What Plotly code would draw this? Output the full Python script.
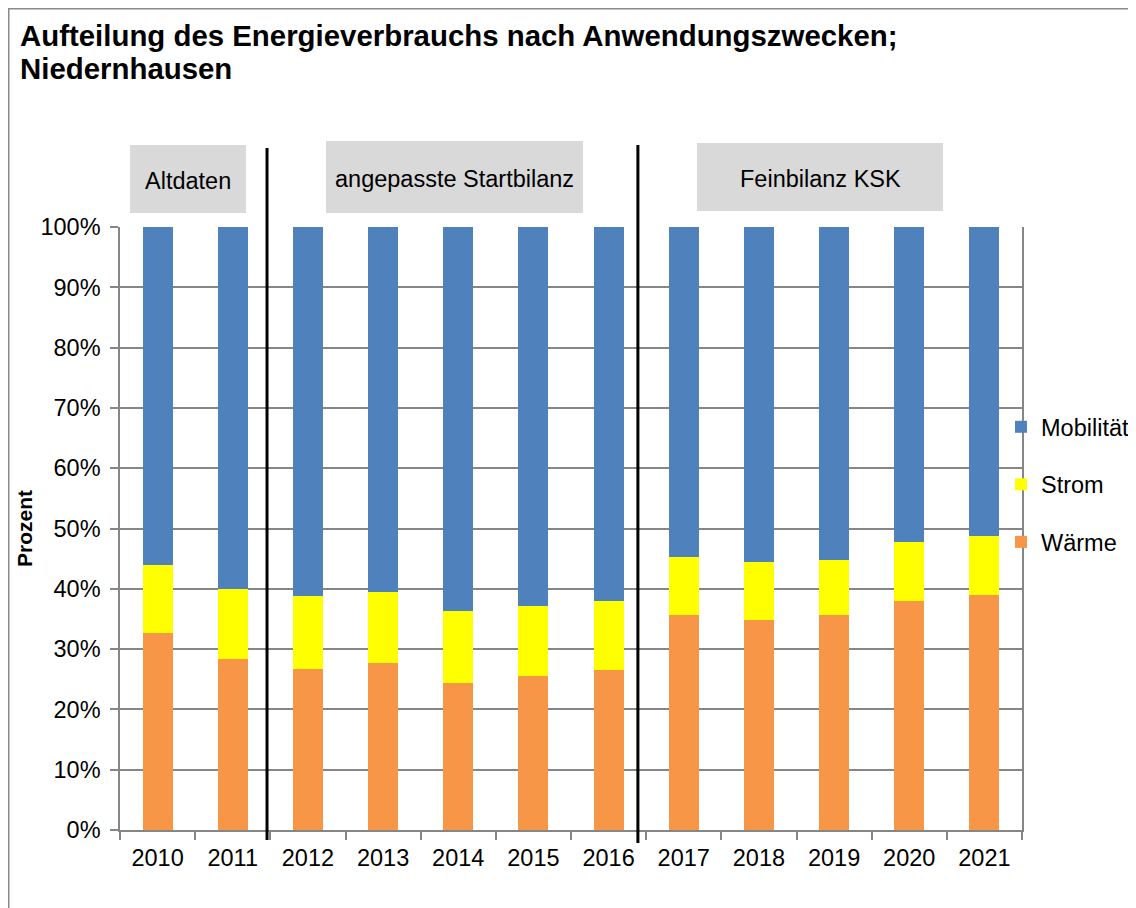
import plotly.graph_objects as go

years = ["2010", "2011", "2012", "2013", "2014", "2015", "2016", "2017", "2018", "2019", "2020", "2021"]
waerme = [32.7, 28.4, 26.75, 27.7, 24.4, 25.6, 26.6, 35.65, 34.9, 35.6, 38.0, 39.0]
strom = [11.2, 11.5, 12.05, 11.7, 11.9, 11.6, 11.4, 9.65, 9.5, 9.2, 9.8, 9.7]
mobilitaet = [56.1, 60.1, 61.2, 60.6, 63.7, 62.8, 62.0, 54.7, 55.6, 55.2, 52.2, 51.3]

series_names = ["Wärme", "Strom", "Mobilität"]
series_values = [waerme, strom, mobilitaet]
series_colors = ["#F79646", "#FFFF00", "#4F81BD"]
legend_ranks = [3, 2, 1]

title_lines = ["Aufteilung des Energieverbrauchs nach Anwendungszwecken;", "Niedernhausen"]
period_labels = ["Altdaten", "angepasste Startbilanz", "Feinbilanz KSK"]
period_separators = [1.456, 6.39]

FONT = "Liberation Sans, Arial, sans-serif"
OFF = 8  # page body margin
W, H = 1136 - OFF, 908 - OFF
# plot area in page pixels
PL, PR, PT, PB = 120, 1022, 227, 830
L, R, T, B = PL - OFF, PR - OFF, PT - OFF, PB - OFF
pw, ph = R - L, B - T

def px_x(x):  # page pixel -> paper
    return (x - PL) / pw

def px_y(y):
    return (PB - y) / ph

fig = go.Figure()
for name, vals, col, rk in zip(series_names, series_values, series_colors, legend_ranks):
    fig.add_trace(go.Bar(x=years, y=vals, name=name, marker=dict(color=col, line=dict(width=0)),
                         legendgroup=name, legendrank=rk))

shapes = []
# outer chart border
shapes.append(dict(type="rect", xref="paper", yref="paper", x0=px_x(8.75), x1=px_x(1160),
                   y0=px_y(930), y1=px_y(8.75), line=dict(color="#8a8a8a", width=1.5),
                   fillcolor="rgba(0,0,0,0)", layer="below"))
# separators
for xs, (ya, yb) in zip(period_separators, [(148, 840), (145, 843)]):
    shapes.append(dict(type="line", xref="x", yref="paper", x0=xs, x1=xs, y0=px_y(yb), y1=px_y(ya),
                       line=dict(color="black", width=3)))
# label boxes
boxes = [(130, 246, 145, 213), (326, 583, 141, 213), (697, 943, 143, 211)]
annotations = []
for (x0, x1, y0, y1), lab in zip(boxes, period_labels):
    shapes.append(dict(type="rect", xref="paper", yref="paper", x0=px_x(x0), x1=px_x(x1),
                       y0=px_y(y1), y1=px_y(y0), fillcolor="#D9D9D9", line=dict(width=0)))
    annotations.append(dict(text=lab, xref="paper", yref="paper", x=px_x((x0 + x1) / 2),
                            y=px_y((y0 + y1) / 2 + 2), showarrow=False, xanchor="center",
                            yanchor="middle", font=dict(family=FONT, size=23.5, color="black")))

# title (two lines)
for txt, base in zip(title_lines, [47, 80]):
    annotations.append(dict(text="<b>" + txt + "</b>", xref="paper", yref="paper", x=px_x(18),
                            y=px_y(base + 7), showarrow=False, xanchor="left", yanchor="bottom",
                            font=dict(family=FONT, size=29.4, color="black")))

fig.update_layout(
    width=W, height=H,
    margin=dict(l=L, r=W - R, t=T, b=H - B, autoexpand=False),
    paper_bgcolor="white", plot_bgcolor="white",
    barmode="stack", bargap=0.6,
    font=dict(family=FONT, size=23.5, color="black"),
    xaxis=dict(type="category", showline=True, linecolor="#868686", linewidth=1.5,
               ticks="outside", tickson="boundaries", ticklen=8, tickcolor="#868686", tickwidth=1.5,
               showgrid=False, tickfont=dict(size=23.5, color="black"), ticklabelstandoff=6),
    yaxis=dict(range=[0, 100], dtick=10, ticksuffix="%", showline=True, mirror=True,
               linecolor="#868686", linewidth=1.5, ticks="outside", ticklen=8,
               tickcolor="#868686", tickwidth=1.5, showgrid=True, gridcolor="#868686", gridwidth=1.5,
               tickfont=dict(size=23.5, color="black"), ticklabelstandoff=5,
               title=dict(text="<b>Prozent</b>", font=dict(size=21, color="black"), standoff=2)),
    legend=dict(x=px_x(1001), xanchor="left", y=px_y(405), yanchor="top", traceorder="grouped",
                tracegroupgap=24, font=dict(size=23.5, color="black"), bgcolor="rgba(0,0,0,0)",
                borderwidth=0),
    shapes=shapes, annotations=annotations,
)

fig.write_html("out.html")
